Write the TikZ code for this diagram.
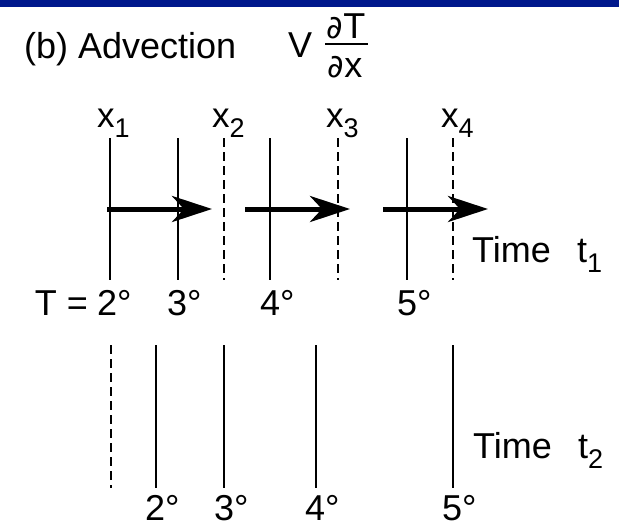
\documentclass[tikz,border=0pt]{standalone}
\usepackage{fontspec}
\setmainfont{Liberation Sans}
\newfontfamily\partfont{DejaVu Sans}
\usetikzlibrary{arrows.meta}
\definecolor{barblue}{RGB}{0,24,140}
\newcommand{\lowsub}[1]{\raisebox{-10pt}{\fontsize{27}{30}\selectfont #1}}
\begin{document}
\begin{tikzpicture}[x=1pt,y=-1pt,
  lbl/.style={inner sep=0pt,anchor=base west,font=\fontsize{36}{40}\selectfont},
  xlbl/.style={inner sep=0pt,anchor=base west,font=\fontsize{35}{38}\selectfont},
  isoline/.style={line width=2.8pt},
  oldline/.style={line width=2.8pt,dash pattern=on 9pt off 5pt},
  flow/.style={line width=5pt,-{Stealth[length=40pt,width=26pt,inset=12pt]}}]
\useasboundingbox (0,0) rectangle (619,525);
\fill[barblue] (0,0) rectangle (619,7);
% title
\node[lbl] (title) at (24,58) {(b) Advection};
\node[lbl] (vel) at (288,57) {V};
\node[lbl,anchor=base] (num) at (346,38) {{\partfont\fontsize{32}{36}\selectfont ∂}T};
\node[lbl,anchor=base] (den) at (345,77) {{\partfont\fontsize{32}{36}\selectfont ∂}x};
\draw[line width=2pt] (325,44) -- (368,44);
% positions x1..x4
\node[xlbl] (x1) at (97,127) {x\lowsub{1}};
\node[xlbl] (x2) at (212,127) {x\lowsub{2}};
\node[xlbl] (x3) at (326,127) {x\lowsub{3}};
\node[xlbl] (x4) at (441,127) {x\lowsub{4}};
% time t1
\draw[isoline] (110,138) -- (110,280);
\draw[isoline] (178,138) -- (178,280);
\draw[isoline] (270,138) -- (270,280);
\draw[isoline] (407,138) -- (407,280);
\draw[oldline] (224,138) -- (224,280);
\draw[oldline] (338,138) -- (338,280);
\draw[oldline] (453,138) -- (453,280);
\coordinate (a1) at (107,209);
\coordinate (b1) at (212,209);
\coordinate (a2) at (245,209);
\coordinate (b2) at (350,209);
\coordinate (a3) at (383,209);
\coordinate (b3) at (488,209);
\draw[flow] (a1) -- (b1);
\draw[flow] (a2) -- (b2);
\draw[flow] (a3) -- (b3);
\node[lbl] (time1) at (472,262) {Time};
\node[lbl] (t1) at (577,262) {t\lowsub{1}};
\node[lbl] (d2a) at (97,315) {2°};
\node[lbl,anchor=base east,xshift=-9pt] (teq) at (d2a.base west) {T =};
\node[lbl] (d3a) at (167,315) {3°};
\node[lbl] (d4a) at (260,315) {4°};
\node[lbl] (d5a) at (397,315) {5°};
% time t2
\draw[oldline] (111,345) -- (111,488);
\draw[isoline] (156,345) -- (156,488);
\draw[isoline] (224,345) -- (224,488);
\draw[isoline] (316,345) -- (316,488);
\draw[isoline] (453,345) -- (453,488);
\node[lbl] (time2) at (473,458) {Time};
\node[lbl] (t2) at (578,458) {t\lowsub{2}};
\node[lbl] (d2b) at (145,520) {2°};
\node[lbl] (d3b) at (214,520) {3°};
\node[lbl] (d4b) at (305,520) {4°};
\node[lbl] (d5b) at (442,520) {5°};
\end{tikzpicture}
\end{document}
